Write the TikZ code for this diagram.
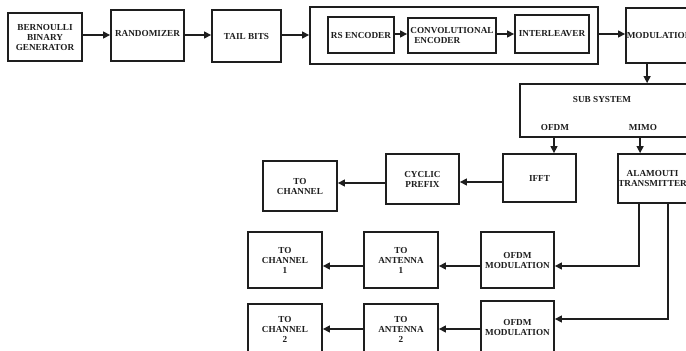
\documentclass[tikz,border=0pt]{standalone}
\usepackage{fontspec}
\setmainfont{Liberation Serif}
\usetikzlibrary{arrows.meta}
\definecolor{ink}{RGB}{30,30,30}
\begin{document}
\begin{tikzpicture}[x=1pt,y=-1pt,
  txt/.style={font=\fontsize{9.2}{10}\selectfont\bfseries, text=ink},
  box/.style={draw=ink, line width=1.8pt, rectangle, inner sep=0pt, align=center, txt},
  lbl/.style={inner sep=0pt, align=center, txt},
  arr/.style={draw=ink, line width=1.3pt, -{Triangle[length=7pt,width=7pt]}},
  wire/.style={draw=ink, line width=1.3pt}]
\useasboundingbox (0,0) rectangle (686,351);
\clip (0,0) rectangle (686,351);
\fill[white] (0,0) rectangle (686,351);

% transmitter chain, top row
\node[box, minimum width=74pt, minimum height=48pt] (bern) at (45,37) {BERNOULLI\\BINARY\\GENERATOR};
\node[box, minimum width=73pt, minimum height=51pt] (rand) at (147.5,35.5) {};
\node[lbl] (randtxt) at (147.5,33) {RANDOMIZER};
\node[box, minimum width=69pt, minimum height=52pt] (tail) at (246.5,36) {TAIL BITS};
\node[box, minimum width=288pt, minimum height=57pt] (coder) at (454,35.5) {};
\node[box, minimum width=66pt, minimum height=36pt] (rs) at (361,35) {RS ENCODER};
\node[box, minimum width=88pt, minimum height=35pt, align=left] (conv) at (452,35.5) {CONVOLUTIONAL\\\ \,ENCODER};
\node[box, minimum width=74pt, minimum height=38pt] (inter) at (552,34) {INTERLEAVER};
\node[box, minimum width=94pt, minimum height=55pt] (mod) at (673,35.5) {};
\node[lbl, anchor=west] (modtxt) at ([xshift=1.5pt]mod.west) {MODULATION};

\draw[arr] (bern.east |- 0,35) -- (rand.west |- 0,35);
\draw[arr] (rand.east |- 0,35) -- (tail.west |- 0,35);
\draw[arr] (tail.east |- 0,35) -- (coder.west |- 0,35);
\draw[arr] (rs.east |- 0,34) -- (conv.west |- 0,34);
\draw[arr] (conv.east |- 0,34) -- (inter.west |- 0,34);
\draw[arr] (coder.east |- 0,34) -- (mod.west |- 0,34);

% sub system split
\node[box, minimum width=170pt, minimum height=53pt] (sub) at (605,110.5) {};
\node[lbl] (subtxt) at (602,99) {SUB SYSTEM};
\node[lbl] (ofdmtxt) at (555,127) {OFDM};
\node[lbl] (mimotxt) at (643,127) {MIMO};
\draw[arr] ([xshift=22pt]mod.south west) -- ([xshift=22pt]mod.south west |- sub.north);

% OFDM branch
\node[box, minimum width=73pt, minimum height=48pt] (ifft) at (539.5,178) {IFFT};
\node[box, minimum width=73pt, minimum height=50pt] (cyc) at (422.5,179) {CYCLIC\\PREFIX};
\node[box, minimum width=74pt, minimum height=50pt] (chan) at (300,186) {TO\\CHANNEL};
\draw[arr] ([xshift=14.5pt]ifft.north |- sub.south) -- ([xshift=14.5pt]ifft.north);
\draw[arr] (ifft.west |- 0,182) -- (cyc.east |- 0,182);
\draw[arr] (cyc.west |- 0,183) -- (chan.east |- 0,183);

% MIMO branch
\node[box, minimum width=102pt, minimum height=49pt] (alam) at (669,178.5) {};
\node[lbl, anchor=west] (alamtxt) at ([xshift=1pt]alam.west) {ALAMOUTI\\TRANSMITTER};
\draw[arr] ([xshift=23pt]alam.north west |- sub.south) -- ([xshift=23pt]alam.north west);

\node[box, minimum width=73pt, minimum height=56pt] (ofdma) at (517.5,260) {OFDM\\MODULATION};
\node[box, minimum width=74pt, minimum height=56pt] (anta) at (401,260) {TO\\ANTENNA\\1};
\node[box, minimum width=74pt, minimum height=56pt] (chana) at (285,260) {TO\\CHANNEL\\1};
\node[box, minimum width=73pt, minimum height=53pt] (ofdmb) at (517.5,327.5) {OFDM\\MODULATION};
\node[box, minimum width=74pt, minimum height=50pt] (antb) at (401,329) {TO\\ANTENNA\\2};
\node[box, minimum width=74pt, minimum height=50pt] (chanb) at (285,329) {TO\\CHANNEL\\2};

\draw[arr] ([xshift=22pt]alam.south west) |- (ofdma.east |- 0,266);
\draw[arr] ([xshift=51pt]alam.south west) |- (ofdmb.east |- 0,319);
\draw[arr] (ofdma.west |- 0,266) -- (anta.east |- 0,266);
\draw[arr] (anta.west |- 0,266) -- (chana.east |- 0,266);
\draw[arr] (ofdmb.west |- 0,329) -- (antb.east |- 0,329);
\draw[arr] (antb.west |- 0,329) -- (chanb.east |- 0,329);
\end{tikzpicture}
\end{document}
